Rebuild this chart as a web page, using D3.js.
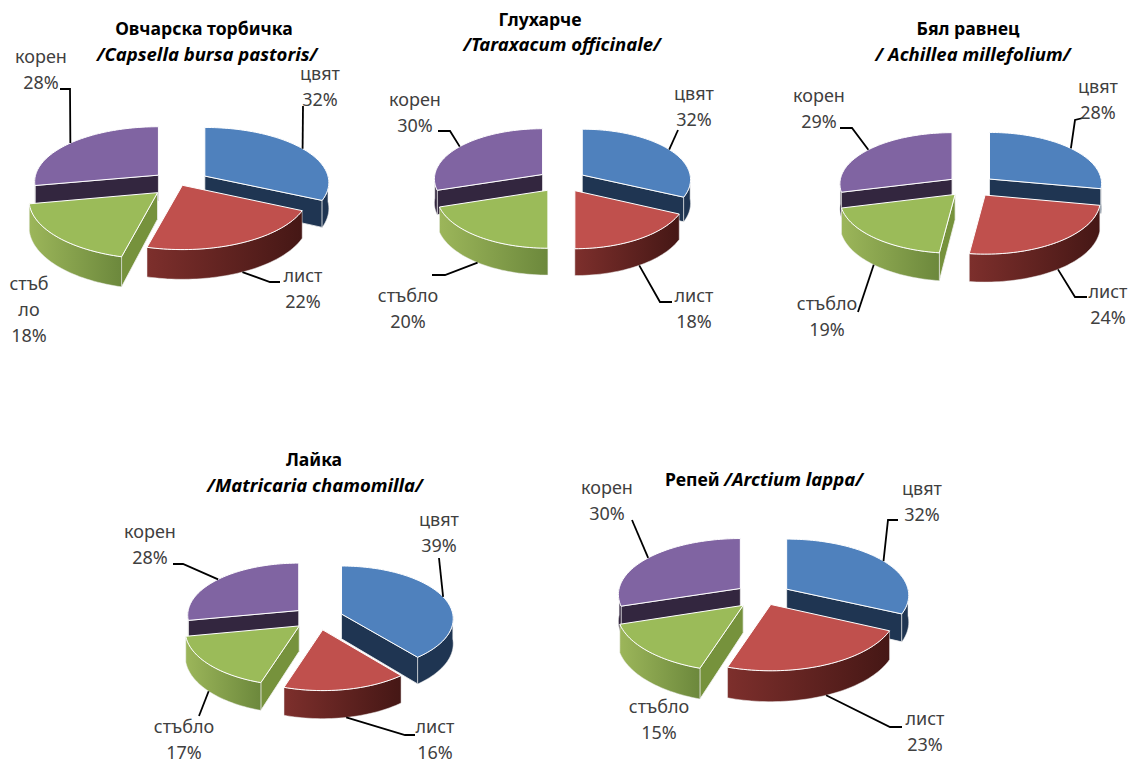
<!DOCTYPE html>
<html>
<head>
<meta charset="utf-8">
<title>Разпределение по органи</title>
<script src="https://cdn.jsdelivr.net/npm/d3@7"></script>
<style>
  html, body { margin: 0; background: #fff; }
  svg { display: block; }
  text { font-family: "Noto Sans", "Open Sans", sans-serif; }
</style>
</head>
<body>
<svg id="chart" width="1133" height="763"></svg>
<script>
// Plant organs, clockwise from twelve o'clock
const organs = ["цвят", "лист", "стъбло", "корен"];

// Share of each organ, per plant (percent)
const capsella = [32, 22, 18, 28];
const taraxacum = [32, 18, 20, 30];
const achillea = [28, 24, 19, 29];
const matricaria = [39, 16, 17, 28];
const arctium = [32, 23, 15, 30];

const topColors = ["#4f81bd", "#c0504d", "#9bbb59", "#8064a2"];
const facetColors = ["#1f3552", "#551d1b", "#76923c", "#33263f"];
const wallStops = [
  ["#1f3552", "#1f3552"],
  ["#7d2f2c", "#451715"],
  ["#9cb65a", "#6c883c"],
  ["#33263f", "#33263f"]
];

// Layout of each exploded pie and its captions
const panels = [
  {
    values: capsella, cx: 180, cy: 183, rx: 125, ry: 56, depth: 26, explode: 28,
    perspective: 0.12, pull: [1.05, 0.2, 1.1, 1],
    title: [{ x: 204, y: 35, parts: [["Овчарска торбичка", false]] },
            { x: 207, y: 61, parts: [["/Capsella bursa pastoris/", true]] }],
    labels: [
      { x: 320, y: 80, lines: ["цвят", "32%"] },
      { x: 303, y: 282, lines: ["лист", "22%"] },
      { x: 29, y: 290, lines: ["стъб", "ло", "18%"] },
      { x: 41, y: 63, lines: ["корен", "28%"] }
    ],
    leaders: [[[303, 106]], [[270, 282], [280, 282]], null, [[70, 89], [60, 89]]]
  },
  {
    values: taraxacum, cx: 562, cy: 181, rx: 109, ry: 51, depth: 24, explode: 24,
    perspective: 0.09, pull: [1, 1, 1, 1],
    title: [{ x: 540, y: 26, parts: [["Глухарче", false]] },
            { x: 562, y: 51, parts: [["/Taraxacum officinale/", true]] }],
    labels: [
      { x: 694, y: 100, lines: ["цвят", "32%"] },
      { x: 694, y: 302, lines: ["лист", "18%"] },
      { x: 408, y: 302, lines: ["стъбло", "20%"] },
      { x: 415, y: 106, lines: ["корен", "30%"] }
    ],
    leaders: [[[678, 130]], [[660, 302], [672, 302]], [[445, 275], [432, 275]], [[450, 131], [438, 131]]]
  },
  {
    values: achillea, cx: 971, cy: 186, rx: 113, ry: 52, depth: 25, explode: 24,
    perspective: 0.09, pull: [1, 1, 1, 1],
    title: [{ x: 968, y: 35, parts: [["Бял равнец", false]] },
            { x: 973, y: 61, parts: [["/ Achillea millefolium/", true]] }],
    labels: [
      { x: 1098, y: 93, lines: ["цвят", "28%"] },
      { x: 1108, y: 298, lines: ["лист", "24%"] },
      { x: 827, y: 310, lines: ["стъбло", "19%"] },
      { x: 819, y: 102, lines: ["корен", "29%"] }
    ],
    leaders: [[[1075, 120], [1083, 118]], [[1075, 297], [1087, 297]], [[858, 312]], [[852, 128], [840, 128]]]
  },
  {
    values: matricaria, cx: 318, cy: 618, rx: 112, ry: 53, depth: 25, explode: 25,
    perspective: 0.09, pull: [1, 1, 1, 1],
    title: [{ x: 314, y: 466, parts: [["Лайка", false]] },
            { x: 315, y: 492, parts: [["/Matricaria chamomilla/", true]] }],
    labels: [
      { x: 439, y: 526, lines: ["цвят", "39%"] },
      { x: 435, y: 733, lines: ["лист", "16%"] },
      { x: 184, y: 733, lines: ["стъбло", "17%"] },
      { x: 150, y: 538, lines: ["корен", "28%"] }
    ],
    leaders: [[[439, 558]], [[405, 735], [415, 735]], [[199, 716]], [[183, 564], [173, 564]]]
  },
  {
    values: arctium, cx: 763, cy: 596, rx: 123, ry: 57, depth: 27, explode: 28,
    perspective: 0.11, pull: [1, 0.7, 1, 1],
    title: [{ x: 764, y: 486, parts: [["Репей ", false], ["/Arctium lappa/", true]] }],
    labels: [
      { x: 922, y: 495, lines: ["цвят", "32%"] },
      { x: 925, y: 725, lines: ["лист", "23%"] },
      { x: 659, y: 713, lines: ["стъбло", "15%"] },
      { x: 607, y: 494, lines: ["корен", "30%"] }
    ],
    leaders: [[[888, 520], [898, 520]], [[890, 727], [902, 727]], null, [[632, 520]]]
  }
];

const svg = d3.select("#chart");
const defs = svg.append("defs");
const pie = d3.pie().sort(null).value(d => d);
const lineGen = d3.line();
const colorTop = d3.scaleOrdinal().domain(organs).range(topColors);
const colorFacet = d3.scaleOrdinal().domain(organs).range(facetColors);

// Horizontal shading on the outer rim of each slice
organs.forEach((name, i) => {
  const g = defs.append("linearGradient").attr("id", "rim" + i)
    .attr("x1", 0).attr("x2", 1).attr("y1", 0).attr("y2", 0);
  g.append("stop").attr("offset", "0%").attr("stop-color", wallStops[i][0]);
  g.append("stop").attr("offset", "100%").attr("stop-color", wallStops[i][1]);
});

// Slices are stacked from the back of the pie to the front
const paintOrder = [3, 0, 1, 2];

panels.forEach(panel => {
  const arcs = pie(panel.values);
  const g = svg.append("g");

  // Ground plane to screen. A slice keeps its pulled-out position (ou, ov)
  // while its own width (du) and the depth axis foreshorten with distance.
  const scaleX = d3.scaleLinear().domain([-1, 1]).range([panel.cx - panel.rx, panel.cx + panel.rx]);
  const scaleY = d3.scaleLinear().domain([-1, 1]).range([panel.cy + panel.ry, panel.cy - panel.ry]);
  const project = (ou, du, v, drop) => {
    const s = 1 / (1 + panel.perspective * v);
    return [scaleX(ou + du * s), scaleY(v * s) + (drop ? panel.depth * s : 0)];
  };

  const sliceGeometry = (arc, i) => {
    const mid = (arc.startAngle + arc.endAngle) / 2;
    const e = panel.pull[i] * panel.explode / panel.rx;
    const ou = e * Math.sin(mid), ov = e * Math.cos(mid);
    const rim = (a, drop) => project(ou, Math.sin(a), ov + Math.cos(a), drop);
    const apex = drop => project(ou, 0, ov, drop);
    return { mid, rim, apex };
  };

  const sample = (a0, a1) => {
    const n = Math.max(2, Math.ceil((a1 - a0) / 0.03));
    return d3.range(n + 1).map(k => a0 + (a1 - a0) * k / n);
  };

  paintOrder.forEach(i => {
    const arc = arcs[i];
    const geo = sliceGeometry(arc, i);
    const a0 = arc.startAngle, a1 = arc.endAngle;
    const slice = g.append("g");

    // Cut faces that turn toward the viewer
    const facet = a => {
      slice.append("path")
        .attr("d", lineGen([geo.apex(false), geo.rim(a, false), geo.rim(a, true), geo.apex(true)]) + "Z")
        .attr("fill", colorFacet(organs[i]))
        .attr("stroke", "#f2f2f2").attr("stroke-width", 0.8);
    };
    if (Math.sin(a0) < -1e-6) facet(a0);
    if (Math.sin(a1) > 1e-6) facet(a1);

    // Outer rim, front half only
    const w0 = Math.max(a0, Math.PI / 2), w1 = Math.min(a1, Math.PI * 1.5);
    if (w1 > w0) {
      const angles = sample(w0, w1);
      const ring = angles.map(a => geo.rim(a, false))
        .concat(angles.slice().reverse().map(a => geo.rim(a, true)));
      slice.append("path")
        .attr("d", lineGen(ring) + "Z")
        .attr("fill", `url(#rim${i})`)
        .attr("stroke", "#ececec").attr("stroke-width", 0.5);
    }

    // Top face
    const top = [geo.apex(false)].concat(sample(a0, a1).map(a => geo.rim(a, false)));
    slice.append("path")
      .attr("d", lineGen(top) + "Z")
      .attr("fill", colorTop(organs[i]))
      .attr("stroke", "#ffffff").attr("stroke-width", 1).attr("stroke-linejoin", "round");
  });

  // Leader lines run from the slice rim out to the caption
  panel.leaders.forEach((steps, i) => {
    if (!steps) return;
    const geo = sliceGeometry(arcs[i], i);
    const front = Math.cos(geo.mid) < 0;
    const anchor = geo.rim(geo.mid, front);
    g.append("path")
      .attr("d", lineGen([anchor].concat(steps)))
      .attr("fill", "none").attr("stroke", "#000").attr("stroke-width", 1.8);
  });

  // Organ name and percentage captions
  panel.labels.forEach(label => {
    const t = g.append("text").attr("text-anchor", "middle")
      .attr("font-size", 18).attr("fill", "#404040");
    label.lines.forEach((line, k) => {
      t.append("tspan").attr("x", label.x).attr("y", label.y + k * 26).text(line);
    });
  });

  // Plant name, Latin name in italics
  panel.title.forEach(row => {
    const t = g.append("text").attr("x", row.x).attr("y", row.y)
      .attr("text-anchor", "middle").attr("font-weight", 700).attr("fill", "#000");
    row.parts.forEach(([str, italic]) => {
      t.append("tspan")
        .attr("font-style", italic ? "italic" : "normal")
        .attr("font-size", italic ? 18.5 : 17.6)
        .text(str);
    });
  });
});
</script>
</body>
</html>
